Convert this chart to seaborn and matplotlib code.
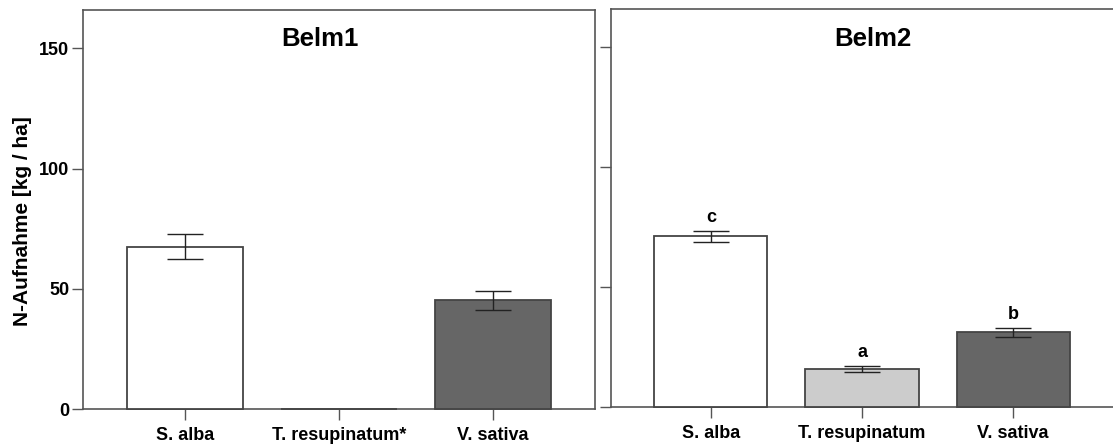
import matplotlib
matplotlib.use("Agg")
import matplotlib.pyplot as plt
import seaborn as sns
import pandas as pd

# N uptake per species at two sites (mean and standard error, kg/ha)
species_belm1 = ["S. alba", "T. resupinatum*", "V. sativa"]
mean_belm1 = [67.5, 0.0, 45.2]
se_belm1 = [5.2, 0.0, 4.0]

species_belm2 = ["S. alba", "T. resupinatum", "V. sativa"]
mean_belm2 = [71.2, 16.0, 31.1]
se_belm2 = [2.3, 1.3, 1.9]
letters_belm2 = ["c", "a", "b"]

bar_colors = ["#ffffff", "#cccccc", "#666666"]
yticks = [0, 50, 100, 150]

sns.set_style("white")
plt.rcParams["font.family"] = ["Liberation Sans", "DejaVu Sans"]
plt.rcParams["font.weight"] = "bold"
plt.rcParams["text.color"] = "black"
plt.rcParams["xtick.color"] = "black"
plt.rcParams["ytick.color"] = "black"

fig = plt.figure(figsize=(11.13, 4.44), dpi=100)
ax1 = fig.add_axes([83 / 1113, 35 / 444, 512 / 1113, 399 / 444])
ax2 = fig.add_axes([611 / 1113, 37 / 444, 502 / 1113, 398 / 444])

spine_col = "#555555"


def draw_panel(ax, names, means, ses, title, title_x, title_y,
               letters=None, show_labels=True):
    df = pd.DataFrame({"species": names, "value": means})
    sns.barplot(data=df, x="species", y="value", hue="species",
                palette=bar_colors, legend=False, ax=ax, width=0.75,
                edgecolor="#444444", linewidth=1.3, errorbar=None)
    for p in ax.patches:
        p.set_zorder(3)
        p.set_clip_on(False)
    xs = list(range(len(names)))
    nonzero = [i for i, s in enumerate(ses) if s > 0]
    ax.errorbar([xs[i] for i in nonzero], [means[i] for i in nonzero],
                yerr=[ses[i] for i in nonzero], fmt="none",
                ecolor="#222222", elinewidth=1.0, capsize=13, capthick=1.0,
                zorder=4)
    if letters:
        for i, lab in enumerate(letters):
            ax.annotate(lab, (xs[i], means[i] + ses[i]), xytext=(0, 3.5),
                        textcoords="offset points", ha="center", va="bottom",
                        fontsize=13, fontweight="bold", color="black")
    ax.set_xlim(-0.66, 2.66)
    ax.set_ylim(0, 166)
    ax.set_yticks(yticks)
    ax.set_xlabel("")
    ax.set_ylabel("")
    ax.text(title_x, title_y, title, transform=ax.transAxes, ha="center",
            va="baseline", fontsize=18.5, fontweight="bold", color="black")
    ax.tick_params(axis="both", which="major", direction="out", length=8,
                   width=1.0, color=spine_col, labelsize=13, pad=2,
                   bottom=True, left=True, labelcolor="black")
    ax.tick_params(axis="x", pad=5)
    for lab in ax.get_xticklabels() + ax.get_yticklabels():
        lab.set_fontweight("bold")
    if not show_labels:
        ax.set_yticklabels([])
    for sp in ax.spines.values():
        sp.set_color(spine_col)
        sp.set_linewidth(1.2)


draw_panel(ax1, species_belm1, mean_belm1, se_belm1, "Belm1", 0.462, 0.91)
draw_panel(ax2, species_belm2, mean_belm2, se_belm2, "Belm2", 0.522, 0.907,
           letters=letters_belm2, show_labels=False)
ax2.spines["right"].set_visible(False)

ax1.set_ylabel("N-Aufnahme [kg / ha]", fontsize=15, fontweight="bold",
               color="black")
ax1.yaxis.set_label_coords(-0.10, 0.47)

fig.savefig("out.png", dpi=100)
